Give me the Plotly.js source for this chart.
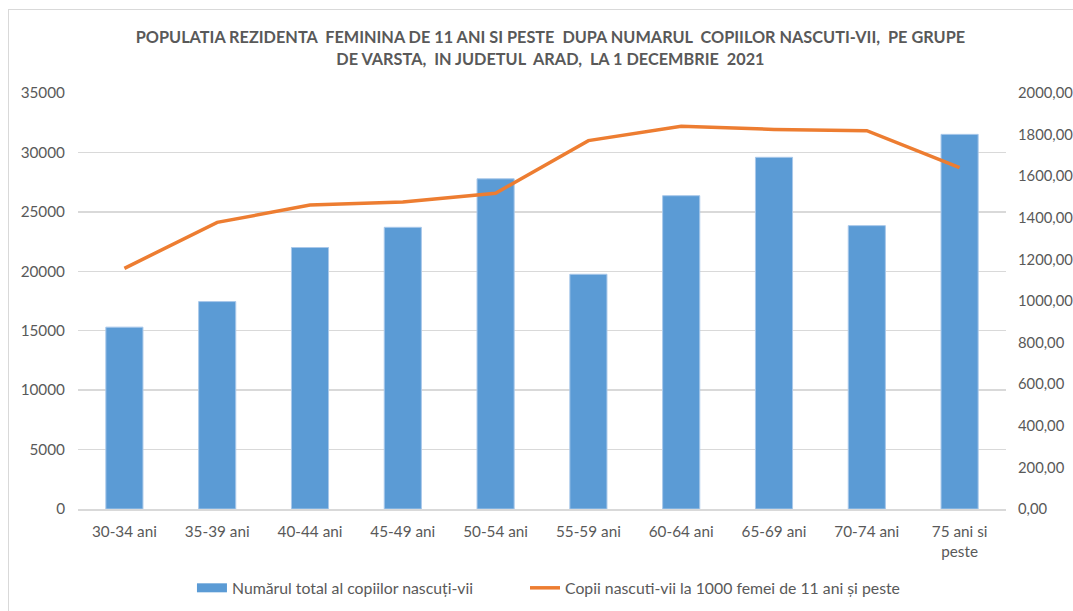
<!DOCTYPE html>
<html>
<head>
<meta charset="utf-8">
<script src="https://cdn.plot.ly/plotly-3.0.1.min.js"></script>
<style>
html,body{margin:0;padding:0;background:#fff;overflow:hidden;}
#wrap{position:relative;width:1073px;height:611px;}
#frame{position:absolute;left:8px;top:9px;width:1080px;height:620px;border-left:1px solid #d9d9d9;border-top:1px solid #d9d9d9;pointer-events:none;}
#chart{position:absolute;left:0;top:0;width:1073px;height:611px;}
</style>
</head>
<body>
<div id="wrap">
<div id="chart"></div>
<div id="frame"></div>
</div>
<script>
const categories = ["30-34 ani","35-39 ani","40-44 ani","45-49 ani","50-54 ani","55-59 ani","60-64 ani","65-69 ani","70-74 ani","75 ani si<br>peste"];
const totalChildren = [15300, 17450, 22000, 23700, 27780, 19750, 26360, 29590, 23840, 31520];
const childrenPer1000 = [1157, 1378, 1461, 1476, 1518, 1771, 1840, 1825, 1819, 1641];
const leftTicks = [0,5000,10000,15000,20000,25000,30000,35000];
const rightTicks = [0,200,400,600,800,1000,1200,1400,1600,1800,2000];
const rightTickLabels = rightTicks.map(v => v.toFixed(2).replace('.', ','));
const seriesNames = ['Numărul total al copiilor nascuți-vii', 'Copii nascuti-vii la 1000 femei de 11 ani și peste'];

const gray = '#595959';
const blue = '#5b9bd5';
const orange = '#ed7d31';
const fontFam = 'Lato, "Open Sans", sans-serif';

const traces = [
  {
    type: 'bar',
    x: categories,
    y: totalChildren,
    name: seriesNames[0],
    marker: {color: blue, line: {color: '#a9c8ea', width: 1}},
    width: 0.4,
    yaxis: 'y',
    showlegend: false
  },
  {
    type: 'scatter',
    mode: 'lines',
    x: [null],
    y: [null],
    name: seriesNames[0],
    line: {color: blue, width: 9},
    yaxis: 'y',
    showlegend: true,
    legend: 'legend'
  },
  {
    type: 'scatter',
    mode: 'lines',
    x: categories,
    y: childrenPer1000,
    name: seriesNames[1],
    line: {color: orange, width: 3.5},
    yaxis: 'y2',
    showlegend: true,
    legend: 'legend2'
  }
];

const legendFont = {family: fontFam, size: 15.8, color: gray};

const layout = {
  width: 1073,
  height: 611,
  margin: {l: 78, r: 67, t: 93, b: 102, autoexpand: false},
  paper_bgcolor: '#fff',
  plot_bgcolor: '#fff',
  font: {family: fontFam, color: gray, size: 15},
  title: {
    text: '<b>POPULATIA REZIDENTA  FEMININA DE 11 ANI SI PESTE  DUPA NUMARUL  COPIILOR NASCUTI-VII,  PE GRUPE<br>DE VARSTA,  IN JUDETUL  ARAD,  LA 1 DECEMBRIE  2021</b>',
    x: 0.513, xanchor: 'center',
    y: 0.929, yanchor: 'top', yref: 'container',
    font: {family: fontFam, size: 16.3, color: gray}
  },
  xaxis: {
    type: 'category',
    showgrid: false,
    showline: true,
    linecolor: '#d9d9d9',
    linewidth: 1.5,
    ticks: '',
    ticklabelstandoff: 8,
    tickfont: {family: fontFam, size: 15.3, color: gray},
    automargin: false
  },
  yaxis: {
    range: [0, 35000],
    tickvals: leftTicks,
    ticktext: leftTicks.map(String),
    showgrid: true,
    gridcolor: '#d9d9d9',
    gridwidth: 1.3,
    zeroline: false,
    showline: false,
    ticks: '',
    ticklabelstandoff: 12,
    tickfont: {family: fontFam, size: 15.3, color: gray},
    automargin: false
  },
  yaxis2: {
    overlaying: 'y',
    side: 'right',
    range: [0, 2000],
    tickvals: rightTicks,
    ticktext: rightTickLabels,
    showgrid: false,
    zeroline: false,
    showline: false,
    ticks: '',
    ticklabelstandoff: 11,
    tickfont: {family: fontFam, size: 14.8, color: gray},
    automargin: false
  },
  showlegend: true,
  legend: {
    orientation: 'h',
    x: 0.1228, xanchor: 'left',
    y: -0.19, yanchor: 'middle',
    font: legendFont
  },
  legend2: {
    orientation: 'h',
    x: 0.4817, xanchor: 'left',
    y: -0.19, yanchor: 'middle',
    font: legendFont
  },
  bargap: 0.6
};

Plotly.newPlot('chart', traces, layout, {displayModeBar: false, staticPlot: true});
</script>
</body>
</html>
